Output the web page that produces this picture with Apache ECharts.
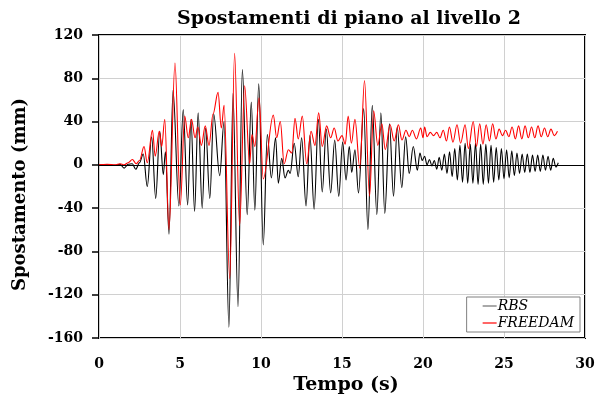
<!DOCTYPE html>
<html>
<head>
<meta charset="utf-8">
<script src="https://cdn.jsdelivr.net/npm/echarts@6/dist/echarts.min.js"></script>
<style>
  html, body { margin: 0; padding: 0; background: #fff; }
  #chart { width: 598px; height: 403px; }
</style>
</head>
<body>
<div id="chart"></div>
<script>
// Interstorey displacement at level 2 — turning points of each response history
const rbsTime = [0, 0.5, 1.0, 1.3, 1.55, 1.8, 2.05, 2.27, 2.5, 2.73, 2.98, 3.25, 3.5, 3.75, 3.97, 4.1, 4.32, 4.57, 4.93, 5.2, 5.47, 5.68, 5.9, 6.12, 6.37, 6.58, 6.84, 7.08, 7.45, 7.72, 8.02, 8.27, 8.58, 8.85, 9.15, 9.4, 9.62, 9.86, 10.14, 10.39, 10.64, 10.9, 11.07, 11.28, 11.48, 11.69, 11.8, 12.05, 12.3, 12.51, 12.78, 13.02, 13.28, 13.54, 13.78, 14.03, 14.3, 14.55, 14.8, 15.04, 15.25, 15.45, 15.6, 15.8, 16.02, 16.34, 16.6, 16.87, 17.15, 17.4, 17.64, 17.93, 18.18, 18.41, 18.69, 18.93, 19.15, 19.4, 19.65, 19.81, 19.95, 20.1, 20.25, 20.4, 20.55, 20.7, 20.85, 21.0, 21.16, 21.32, 21.48, 21.64, 21.8, 21.96, 22.12, 22.28, 22.44, 22.6, 22.76, 22.92, 23.08, 23.24, 23.4, 23.56, 23.72, 23.88, 24.04, 24.2, 24.36, 24.52, 24.68, 24.84, 25.0, 25.16, 25.32, 25.48, 25.64, 25.8, 25.96, 26.12, 26.28, 26.44, 26.6, 26.76, 26.92, 27.08, 27.24, 27.4, 27.56, 27.72, 27.88, 28.04, 28.2, 28.35];
const rbsDisp = [0, 0, -0.5, 0.5, -3, 0.5, 1, -4, 2, 10, -20, 26, -31, 31, -9, 12, -64, 69, -38, 51, -37, 42, -43, 48, -40, 34, -31, 47, -10, 40, -150, 66, -131, 88, -46, 58, -42, 75, -74, 28, -12, 25, -17, 6, -12, -5, -8, 20, -11, 25, -38, 27, -41, 42, -25, 33, -26, 23, -29, 21, -14, 17, -7, 14, -26, 52, -60, 55, -46, 48, -45, 38, -29, 35, -21, 26, -8, 17, -5, 11, 4, 8, 0, 5, -1, 4, -4, 7, -5, 10, -8, 12, -11, 15, -14, 18, -16, 20, -17, 19, -17, 20, -18, 19, -18, 19, -17, 18, -16, 16, -14, 15, -13, 14, -12, 13, -10, 11, -8, 10, -7, 10, -7, 9, -6, 9, -6, 9, -5, 8, -5, 6, -2, 2];

const freedamTime = [0, 0.5, 1.0, 1.3, 1.55, 1.8, 2.06, 2.3, 2.5, 2.78, 2.98, 3.3, 3.47, 3.72, 3.87, 4.06, 4.32, 4.69, 5.02, 5.29, 5.51, 5.71, 5.93, 6.1, 6.32, 6.56, 6.79, 7.04, 7.35, 7.55, 7.72, 8.07, 8.37, 8.68, 8.99, 9.3, 9.44, 9.62, 9.88, 10.14, 10.76, 10.97, 11.19, 11.43, 11.69, 11.9, 12.1, 12.3, 12.55, 12.82, 13.09, 13.33, 13.56, 13.78, 14.05, 14.3, 14.52, 14.75, 15.0, 15.2, 15.38, 15.58, 15.8, 16.1, 16.39, 16.7, 16.95, 17.21, 17.46, 17.67, 17.97, 18.22, 18.48, 18.7, 18.95, 19.15, 19.34, 19.6, 19.86, 20.0, 20.1, 20.25, 20.45, 20.65, 20.85, 21.05, 21.25, 21.45, 21.63, 21.85, 22.1, 22.32, 22.6, 22.8, 23.1, 23.3, 23.5, 23.7, 23.9, 24.1, 24.3, 24.5, 24.7, 24.9, 25.1, 25.3, 25.5, 25.7, 25.9, 26.1, 26.3, 26.5, 26.7, 26.9, 27.1, 27.3, 27.5, 27.7, 27.9, 28.1, 28.3];
const freedamDisp = [0, 0.5, 0, 1, 0, 2, 5, 1, 4, 17, 2, 32, 8, 31, 17, 42, -60, 94, -37, 45, 25, 42, 25, 35, 18, 36, 18, 47, 67, 34, 55, -105, 103, -56, 73, 1, 28, 17, 62, -13, 46, 25, 40, 1, 14, 11, 43, 24, 45, 1, 31, 18, 48, 17, 36, 25, 34, 22, 27, 19, 45, 20, 42, -3, 78, -29, 50, 18, 38, 14, 37, 22, 37, 23, 32, 26, 32, 24, 34, 25, 35, 26, 30, 27, 30, 25, 32, 22, 35, 21, 37, 20, 37, 15, 40, 17, 38, 19, 37, 22, 38, 24, 33, 27, 32, 26, 35, 24, 36, 24, 36, 25, 35, 25, 36, 26, 34, 26, 33, 27, 31];

const xTicks = [0, 5, 10, 15, 20, 25, 30];
const yTicks = [-160, -120, -80, -40, 0, 40, 80, 120];

const serif = '"DejaVu Serif", "Liberation Serif", serif';
const zip = (t, v) => t.map((x, i) => [x, v[i]]);

const chart = echarts.init(document.getElementById('chart'), null, { renderer: 'canvas' });
chart.setOption({
  animation: false,
  backgroundColor: '#ffffff',
  title: {
    text: 'Spostamenti di piano al livello 2',
    left: 344,
    textAlign: 'center',
    top: 5,
    textStyle: { fontFamily: serif, fontWeight: 'bold', fontSize: 19, color: '#000' }
  },
  grid: {
    left: 99, right: 13, top: 35, bottom: 65,
    show: true, borderColor: '#000', borderWidth: 2, backgroundColor: 'transparent'
  },
  legend: {
    data: [
      { name: 'RBS', icon: 'rect', itemStyle: { color: '#707070' } },
      { name: 'FREEDAM', icon: 'rect', itemStyle: { color: '#ff0000' } }
    ],
    orient: 'vertical',
    right: 18, bottom: 71,
    backgroundColor: '#fff',
    borderColor: '#808080', borderWidth: 1,
    padding: [2, 6, 2, 16],
    itemGap: 3,
    itemWidth: 14, itemHeight: 1.2,
    textStyle: { fontFamily: serif, fontStyle: 'italic', fontSize: 14, color: '#000', padding: [0, 0, 0, -4] }
  },
  xAxis: {
    type: 'value',
    min: xTicks[0], max: xTicks[xTicks.length - 1], interval: 5,
    name: 'Tempo (s)', nameLocation: 'middle', nameGap: 38,
    nameTextStyle: { fontFamily: serif, fontWeight: 'bold', fontSize: 19, color: '#000', padding: [0, 0, 0, 8] },
    axisLine: { show: false },
    axisTick: { show: false },
    axisLabel: { margin: 19, fontFamily: serif, fontWeight: 'bold', fontSize: 14, color: '#000' },
    splitLine: { show: true, lineStyle: { color: '#d0d0d0', width: 1 } }
  },
  yAxis: {
    type: 'value',
    min: yTicks[0], max: yTicks[yTicks.length - 1], interval: 40,
    name: 'Spostamento (mm)', nameLocation: 'middle', nameGap: 70, nameRotate: 90,
    nameTextStyle: { fontFamily: serif, fontWeight: 'bold', fontSize: 18, color: '#000', padding: [0, 16, 0, 0] },
    axisLine: { show: false },
    axisTick: { show: true, inside: false, length: 7, lineStyle: { color: '#000', width: 1.5 } },
    axisLabel: { margin: 16, fontFamily: serif, fontWeight: 'bold', fontSize: 14, color: '#000' },
    splitLine: { show: true, lineStyle: { color: '#d0d0d0', width: 1 } }
  },
  series: [
    {
      name: 'RBS', type: 'line', showSymbol: false, symbol: 'none',
      smooth: 0.35, smoothMonotone: 'x', data: zip(rbsTime, rbsDisp),
      itemStyle: { color: '#000' },
      lineStyle: { color: '#000', width: 1.1 },
      z: 2,
      markLine: {
        silent: true, symbol: 'none', label: { show: false },
        lineStyle: { color: '#000', width: 1, type: 'solid' },
        data: [{ yAxis: 0 }]
      }
    },
    {
      name: 'FREEDAM', type: 'line', showSymbol: false, symbol: 'none',
      smooth: 0.35, smoothMonotone: 'x', data: zip(freedamTime, freedamDisp),
      itemStyle: { color: '#ff0000' },
      lineStyle: { color: '#ff0000', width: 1.1 },
      z: 3
    }
  ]
});
</script>
</body>
</html>
